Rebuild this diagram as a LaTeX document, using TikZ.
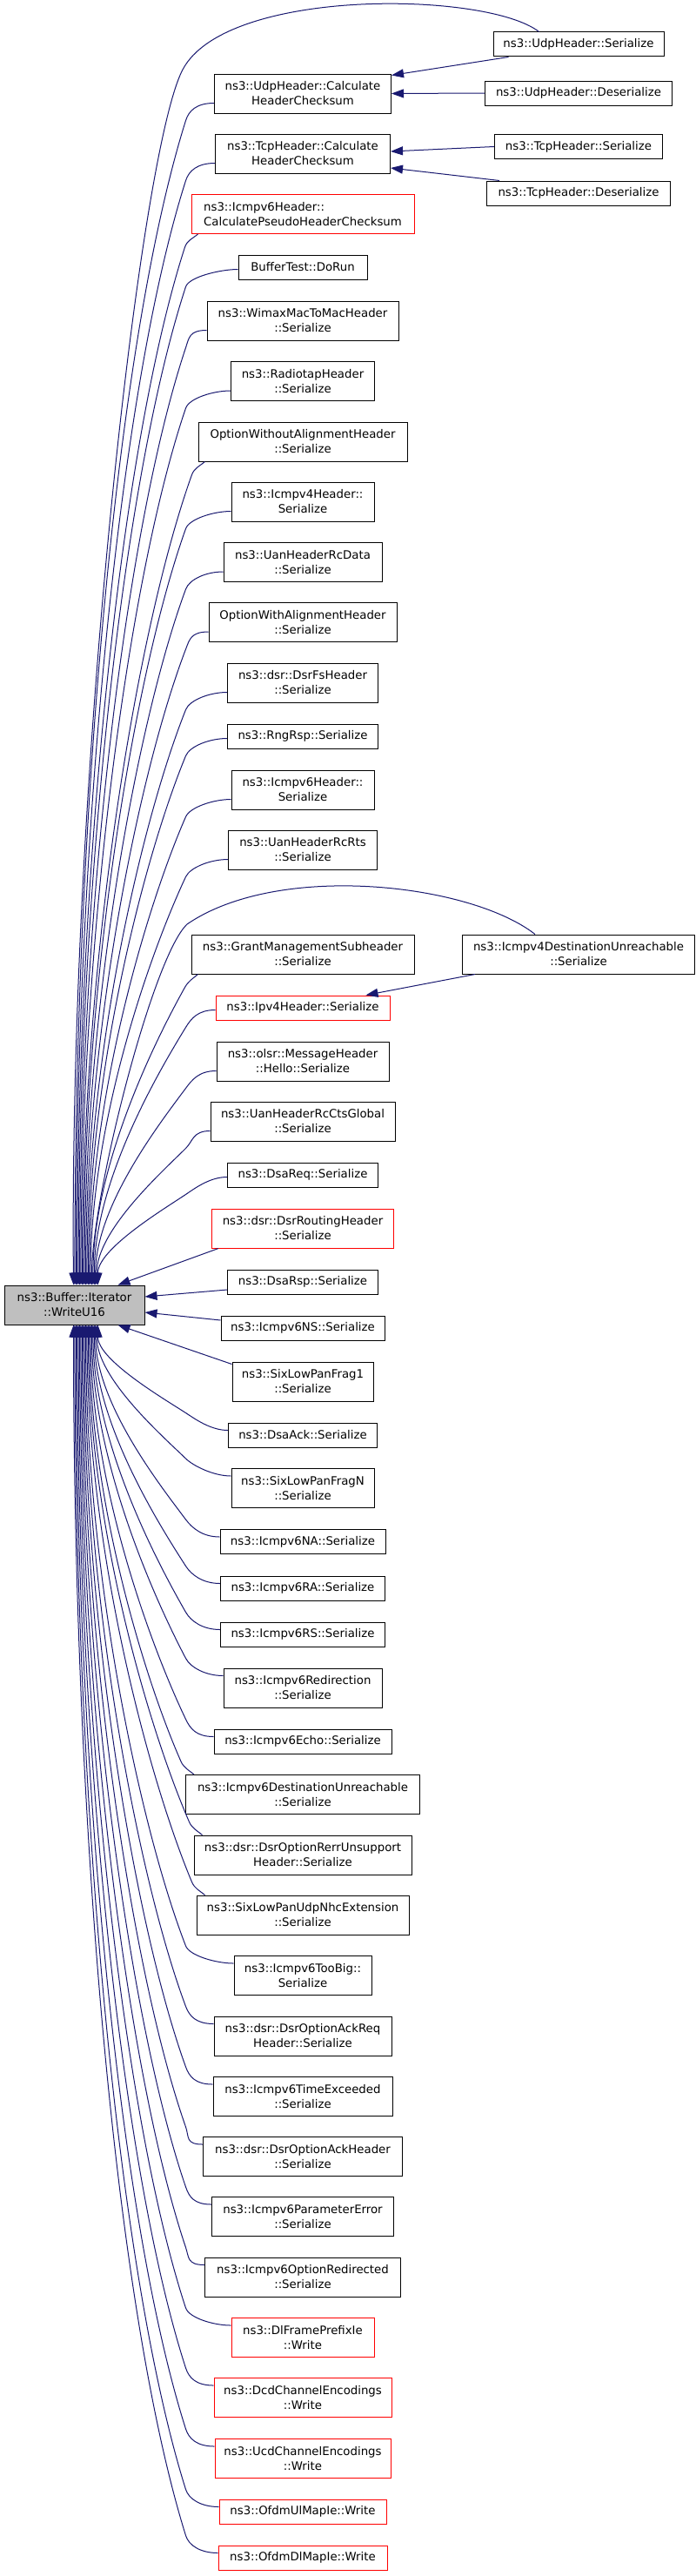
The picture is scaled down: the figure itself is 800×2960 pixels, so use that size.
\documentclass[tikz,border=0pt]{standalone}
\usepackage{fontspec}
\setmainfont{DejaVu Sans}
\usetikzlibrary{calc,arrows.meta}
\definecolor{edgecol}{HTML}{191970}
\definecolor{maingray}{HTML}{BFBFBF}
\tikzset{
 box/.style={draw=black, line width=1pt, fill=white, align=center, inner xsep=4pt, inner ysep=0pt, font=\fontsize{13.3}{17}\selectfont, text=black},
 one/.style={box, minimum height=28pt},
 two/.style={box, minimum height=45pt},
 redb/.style={draw=red},
 calln/.style={draw=edgecol, line width=1pt, -{Triangle[length=14pt,width=10pt]}},
}
% side-attached edge, node above main
\newcommand\eUpS[2]{%
 \path ($(#1.south west)+(0,-12)$) coordinate (S);
 \path ($(S -| main.east)+(47,20)$) coordinate (B);
 \path ($(main.north west)+(#2,0)$) coordinate (T);
 \path ($(B)!0.2!-12:(T)$) coordinate (P1);
 \path ($(T)!0.4!(T |- B)$) coordinate (P2);
 \draw[calln] (S) .. controls ($(S)+(-20,0)$) and ($(B)!-12pt!(P1)$) .. (B) .. controls (P1) and (P2) .. (T);}
% corner-attached edge, node above main
\newcommand\eUpC[2]{%
 \path ($(#1.south west)+(8,0)$) coordinate (S);
 \path ($(S)+(-15,15)$) coordinate (B);
 \path ($(main.north west)+(#2,0)$) coordinate (T);
 \path ($(B)!0.2!-12:(T)$) coordinate (P1);
 \path ($(T)!0.4!(T |- B)$) coordinate (P2);
 \draw[calln] (S) .. controls ($(S)+(-6,5)$) and ($(B)!-8pt!(P1)$) .. (B) .. controls (P1) and (P2) .. (T);}
% side-attached edge, node below main
\newcommand\eDnS[2]{%
 \path ($(#1.north west)+(0,9)$) coordinate (S);
 \path ($(S -| main.east)+(47,-20)$) coordinate (B);
 \path ($(main.south west)+(#2,0)$) coordinate (T);
 \path ($(B)!0.2!12:(T)$) coordinate (P1);
 \path ($(T)!0.4!(T |- B)$) coordinate (P2);
 \draw[calln] (S) .. controls ($(S)+(-20,0)$) and ($(B)!-12pt!(P1)$) .. (B) .. controls (P1) and (P2) .. (T);}
% corner-attached edge, node below main
\newcommand\eDnC[2]{%
 \path ($(#1.north west)+(10,0)$) coordinate (S);
 \path ($(S)+(-15,-15)$) coordinate (B);
 \path ($(main.south west)+(#2,0)$) coordinate (T);
 \path ($(B)!0.2!12:(T)$) coordinate (P1);
 \path ($(T)!0.4!(T |- B)$) coordinate (P2);
 \draw[calln] (S) .. controls ($(S)+(-6,-5)$) and ($(B)!-8pt!(P1)$) .. (B) .. controls (P1) and (P2) .. (T);}
\begin{document}
\begin{tikzpicture}[x=1pt,y=-1pt]
\fill[white] (0,0) rectangle (800,2960);
\useasboundingbox (0,0) rectangle (800,2960);
% main node
\node[two, fill=maingray, minimum width=161pt] (main) at (85.5,1499.5) {ns3::Buffer::Iterator\\::WriteU16};
% right column
\node[one, minimum width=196pt] (us) at (665,51) {ns3::UdpHeader::Serialize};
\node[one, minimum width=215pt] (ud) at (665,107) {ns3::UdpHeader::Deserialize};
\node[one, minimum width=193pt] (ts) at (665,168.5) {ns3::TcpHeader::Serialize};
\node[one, minimum width=211pt] (td) at (665,222) {ns3::TcpHeader::Deserialize};
\node[two, minimum width=267pt] (i4du) at (665,1096.5) {ns3::Icmpv4DestinationUnreachable\\::Serialize};
% middle column
\node[two, minimum width=203pt] (uc) at (348,107.5) {ns3::UdpHeader::Calculate\\HeaderChecksum};
\node[two, minimum width=201pt] (tc) at (348,176.5) {ns3::TcpHeader::Calculate\\HeaderChecksum};
\node[two, redb, align=left, minimum width=256pt] (ip) at (348,246) {ns3::Icmpv6Header::\\CalculatePseudoHeaderChecksum};
\node[one, minimum width=148pt] (bt) at (348,307) {BufferTest::DoRun};
\node[two, minimum width=220pt] (wm) at (348,368.5) {ns3::WimaxMacToMacHeader\\::Serialize};
\node[two, minimum width=165pt] (rt) at (348,438) {ns3::RadiotapHeader\\::Serialize};
\node[two, minimum width=240pt] (ow) at (348,507.5) {OptionWithoutAlignmentHeader\\::Serialize};
\node[two, minimum width=164pt] (i4h) at (348,576.5) {ns3::Icmpv4Header::\\Serialize};
\node[two, minimum width=182pt] (urd) at (348,646) {ns3::UanHeaderRcData\\::Serialize};
\node[two, minimum width=216pt] (owa) at (348,715) {OptionWithAlignmentHeader\\::Serialize};
\node[two, minimum width=173pt] (dfs) at (348,784.5) {ns3::dsr::DsrFsHeader\\::Serialize};
\node[one, minimum width=173pt] (rr) at (348,846) {ns3::RngRsp::Serialize};
\node[two, minimum width=164pt] (i6h) at (348,907.5) {ns3::Icmpv6Header::\\Serialize};
\node[two, minimum width=171pt] (urr) at (348,976.5) {ns3::UanHeaderRcRts\\::Serialize};
\node[two, minimum width=256pt] (gm) at (348,1096.5) {ns3::GrantManagementSubheader\\::Serialize};
\node[one, redb, minimum width=200pt] (v4) at (348,1158) {ns3::Ipv4Header::Serialize};
\node[two, minimum width=198pt] (olsr) at (348,1219.5) {ns3::olsr::MessageHeader\\::Hello::Serialize};
\node[two, minimum width=212pt] (ucg) at (348,1288.5) {ns3::UanHeaderRcCtsGlobal\\::Serialize};
\node[one, minimum width=173pt] (dreq) at (348,1350) {ns3::DsaReq::Serialize};
\node[two, redb, minimum width=209pt] (drh) at (348,1411.5) {ns3::dsr::DsrRoutingHeader\\::Serialize};
\node[one, minimum width=173pt] (drsp) at (348,1473) {ns3::DsaRsp::Serialize};
\node[one, minimum width=188pt] (ns) at (348,1526) {ns3::Icmpv6NS::Serialize};
\node[two, minimum width=162pt] (f1) at (348,1587.5) {ns3::SixLowPanFrag1\\::Serialize};
\node[one, minimum width=171pt] (dack) at (348,1649) {ns3::DsaAck::Serialize};
\node[two, minimum width=164pt] (fn) at (348,1710) {ns3::SixLowPanFragN\\::Serialize};
\node[one, minimum width=190pt] (na) at (348,1771.5) {ns3::Icmpv6NA::Serialize};
\node[one, minimum width=189pt] (ra) at (348,1825) {ns3::Icmpv6RA::Serialize};
\node[one, minimum width=189pt] (rs) at (348,1878) {ns3::Icmpv6RS::Serialize};
\node[two, minimum width=182pt] (rdr) at (348,1939.5) {ns3::Icmpv6Redirection\\::Serialize};
\node[one, minimum width=204pt] (echo) at (348,2001) {ns3::Icmpv6Echo::Serialize};
\node[two, minimum width=269pt] (i6du) at (348,2062) {ns3::Icmpv6DestinationUnreachable\\::Serialize};
\node[two, minimum width=250pt] (rerr) at (348,2131.5) {ns3::dsr::DsrOptionRerrUnsupport\\Header::Serialize};
\node[two, minimum width=244pt] (udp) at (348,2200.5) {ns3::SixLowPanUdpNhcExtension\\::Serialize};
\node[two, minimum width=158pt] (tb) at (348,2270) {ns3::Icmpv6TooBig::\\Serialize};
\node[two, minimum width=204pt] (areq) at (348,2339.5) {ns3::dsr::DsrOptionAckReq\\Header::Serialize};
\node[two, minimum width=206pt] (te) at (348,2409) {ns3::Icmpv6TimeExceeded\\::Serialize};
\node[two, minimum width=229pt] (ahdr) at (348,2478) {ns3::dsr::DsrOptionAckHeader\\::Serialize};
\node[two, minimum width=209pt] (pe) at (348,2547) {ns3::Icmpv6ParameterError\\::Serialize};
\node[two, minimum width=225pt] (opr) at (348,2616.5) {ns3::Icmpv6OptionRedirected\\::Serialize};
\node[two, redb, minimum width=164pt] (dfp) at (348,2686) {ns3::DlFramePrefixIe\\::Write};
\node[two, redb, minimum width=204pt] (dcd) at (348,2755) {ns3::DcdChannelEncodings\\::Write};
\node[two, redb, minimum width=202pt] (ucd) at (348,2825) {ns3::UcdChannelEncodings\\::Write};
\node[one, redb, minimum width=192pt] (ful) at (348,2886) {ns3::OfdmUlMapIe::Write};
\node[one, redb, minimum width=194pt] (fdl) at (348,2939) {ns3::OfdmDlMapIe::Write};
% right column edges
\draw[calln] ($(us.south west)+(18,0)$) -- ($(uc.north east)+(0,2)$);
\draw[calln] (ud.west) -- (uc.east);
\draw[calln] (ts.west) -- ($(tc.east)+(0,-2.5)$);
\draw[calln] ($(td.north west)+(15,0)$) -- ($(tc.east)+(0,16.5)$);
\draw[calln] ($(i4du.south west)+(15,0)$) -- ($(v4.north east)+(-28,0)$);
% arcs from the right column to main
\path ($(us.north west)+(53,0)$) coordinate (S);
\coordinate (A1) at (210,80);
\path ($(main.north west)+(80,0)$) coordinate (T);
\draw[calln] (S) .. controls (560,-10) and (260,-15) .. (A1) .. controls (160,175) and ($(T)+(-5,-577)$) .. (T);
\path ($(i4du.north west)+(84,0)$) coordinate (S);
\coordinate (A2) at (215,1062);
\path ($(main.north west)+(101,0)$) coordinate (T);
\draw[calln] (S) .. controls (540,1015) and (320,990) .. (A2) .. controls (175,1100) and ($(T)+(0,-100)$) .. (T);
% near edges
\draw[calln] ($(drsp.west)+(0,9)$) -- ($(main.east)+(0,-9.5)$);
\draw[calln] ($(ns.west)+(0,-9)$) -- ($(main.east)+(0,8.5)$);
\draw[calln] ($(drh.south west)+(8,0)$) -- ($(main.north east)+(-31,0)$);
\draw[calln] ($(f1.north west)+(0,3)$) -- ($(main.south east)+(-31,0)$);
% edges from nodes above main
\eUpS{dreq}{108}
\eUpS{ucg}{106.6}
\eUpS{olsr}{105.2}
\eUpS{v4}{103.8}
\eUpC{gm}{102.4}
\eUpS{urr}{99.6}
\eUpS{i6h}{98.2}
\eUpS{rr}{96.8}
\eUpS{dfs}{95.4}
\eUpS{owa}{94}
\eUpS{urd}{92.6}
\eUpS{i4h}{91.2}
\eUpC{ow}{89.8}
\eUpS{rt}{88.4}
\eUpS{wm}{87}
\eUpS{bt}{85.6}
\eUpC{ip}{84.2}
\eUpS{tc}{82.8}
\eUpS{uc}{81.4}
% edges from nodes below main
\eDnS{dack}{108}
\eDnS{fn}{106.6}
\eDnS{na}{105.2}
\eDnS{ra}{103.8}
\eDnS{rs}{102.4}
\eDnS{rdr}{101}
\eDnS{echo}{99.6}
\eDnC{i6du}{98.2}
\eDnC{rerr}{96.8}
\eDnC{udp}{95.4}
\eDnS{tb}{94}
\eDnS{areq}{92.6}
\eDnS{te}{91.2}
\eDnS{ahdr}{89.8}
\eDnS{pe}{88.4}
\eDnS{opr}{87}
\eDnS{dfp}{85.6}
\eDnS{dcd}{84.2}
\eDnS{ucd}{82.8}
\eDnS{ful}{81.4}
\eDnS{fdl}{80}
\end{tikzpicture}
\end{document}
